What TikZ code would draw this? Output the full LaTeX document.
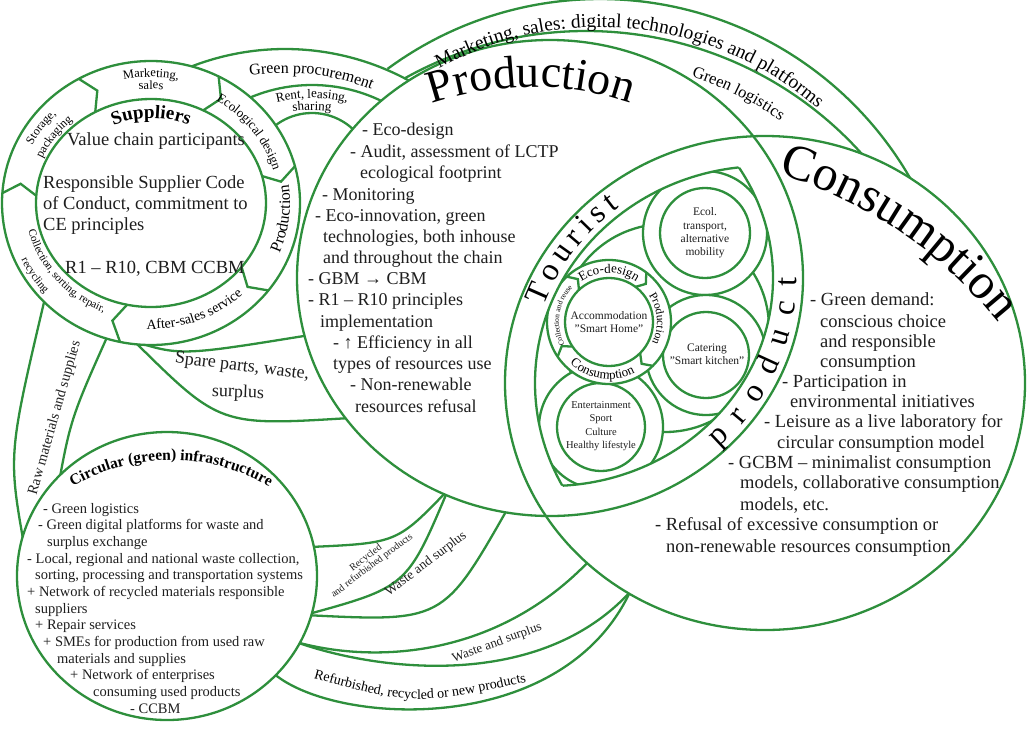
\documentclass[tikz,border=0pt]{standalone}
\usepackage{fontspec}
\setmainfont{Liberation Serif}
\usetikzlibrary{decorations.text}
\definecolor{LeafGreen}{HTML}{2E8F3C}
\definecolor{Ink}{HTML}{1E1E1E}

\begin{document}
\begin{tikzpicture}[x=1pt,y=-1pt,
    ring/.style={draw=LeafGreen,line width=2.3pt},
    curvetext/.style 2 args={decorate,decoration={text along path,text={|#1|#2},text align=center}},
    fittext/.style 2 args={decorate,decoration={text along path,text={|#1|#2},text align=fit to path}},
    listline/.style={inner sep=0pt,anchor=base west,text=Ink}]
  \useasboundingbox (0,0) rectangle (1032,729);
  \draw[ring] ([shift={(285,308)}]-112:259) arc[start angle=-112,end angle=-58,radius=259];
  \draw[ring] ([shift={(312,244)}]-116:159) arc[start angle=-116,end angle=-60,radius=159];
  \draw[ring] ([shift={(312,173)}]-132:60) arc[start angle=-132,end angle=-38,radius=60];
  \draw[ring] ([shift={(600,357)}]-126.4:358) arc[start angle=-126.4,end angle=-28,radius=358];
  \draw[ring] ([shift={(586,402)}]-119.3:371) arc[start angle=-119.3,end angle=-40,radius=371];
  \draw[ring] (130,340) .. controls (180,356) .. (310,335);
  \draw[ring] (135,342) .. controls (220,426) .. (350,418);
  \draw[ring] (45,298) .. controls (8,455) .. (25,550);
  \draw[ring] (108,335) .. controls (70,420) .. (55,505);
  \draw[ring] (310,547) .. controls (397,543) .. (448,490);
  \draw[ring] (305,615) .. controls (407,587) .. (448,490);
  \draw[ring] (305,615) .. controls (443,622) .. (508,508);
  \draw[ring] (296,642) .. controls (380,665) and (500,655) .. (590,560);
  \draw[ring] (296,642) .. controls (380,672) and (540,690) .. (630,592);
  \draw[ring] (272,672) .. controls (330,725) and (560,740) .. (630,592);
  \fill[white] (151,203) ellipse[x radius=149,y radius=142];
  \fill[white] (167,576) ellipse[x radius=150,y radius=144];
  \fill[white] (550,278) ellipse[x radius=253,y radius=238];
  \fill[white] (765,383) ellipse[x radius=260,y radius=247];
  \draw[ring] (151,203) ellipse[x radius=149,y radius=142];
  \draw[ring] (151,203) ellipse[x radius=115,y radius=104];
  \draw[ring] (167,576) ellipse[x radius=150,y radius=144];
  \draw[ring] (550,278) ellipse[x radius=253,y radius=238];
  \draw[ring] (765,383) ellipse[x radius=260,y radius=247];
  \begin{scope}[shift={(151,203)}]
    \foreach \a in {-119,-63,-15,38,102,184}
      \draw[ring] (\a:149 and 142) -- (\a+5:132 and 123) -- (\a:115 and 104);
  \end{scope}
  \begin{scope}
    \clip (550,278) ellipse[x radius=223,y radius=208];
    \clip (765,383) ellipse[x radius=230,y radius=217];
    \draw[ring] (665,328) circle[radius=104];
    \filldraw[ring,fill=white] (705,233) circle[radius=62];
    \draw[ring] (705,233) circle[radius=45];
    \filldraw[ring,fill=white] (706,355) circle[radius=60];
    \draw[ring] (706,355) circle[radius=43];
    \filldraw[ring,fill=white] (601,427) circle[radius=62];
    \draw[ring] (601,427) circle[radius=44];
    \filldraw[ring,fill=white] (609,322) circle[radius=62];
    \draw[ring] (609,322) circle[radius=44];
    \begin{scope}[shift={(609,322)}]
      \foreach \a in {-133,-53,45,146}
        \draw[ring] (\a:62) -- (\a+7:53) -- (\a:44);
    \end{scope}
  \end{scope}
  \begin{scope}
    \clip (550,278) ellipse[x radius=223,y radius=208];
    \draw[ring] (765,383) ellipse[x radius=230,y radius=217];
  \end{scope}
  \begin{scope}
    \clip (765,383) ellipse[x radius=230,y radius=217];
    \draw[ring] (550,278) ellipse[x radius=223,y radius=208];
  \end{scope}

  \path[curvetext={\fontsize{46}{46}\selectfont}{Production}] ([shift={(531,395)}]-118:308) arc[start angle=-118,end angle=-62,radius=308];
  \path[curvetext={\fontsize{50}{50}\selectfont}{Consumption}] ([shift={(650,600)}]-86:445) arc[start angle=-86,end angle=-25.8,radius=445];
  \path[fittext={\fontsize{32}{32}\selectfont}{Tourist}] ([shift={(765,383)}]-160:236 and 223) arc[start angle=-160,end angle=-128,x radius=236,y radius=223];
  \path[fittext={\fontsize{32}{32}\selectfont}{product}] ([shift={(550,278)}]47:247 and 232) arc[start angle=47,end angle=0,x radius=247,y radius=232];
  \path[curvetext={\fontsize{19}{19}\selectfont\bfseries}{Suppliers}] ([shift={(151,203)}]-125:93 and 85) arc[start angle=-125,end angle=-55,x radius=93,y radius=85];
  \path[curvetext={\fontsize{15.5}{15.5}\selectfont\bfseries}{Circular (green) infrastructure}] ([shift={(171,655)}]-128:195) arc[start angle=-128,end angle=-52,radius=195];
  \begin{scope}[shift={(151,203)}]
    \path[curvetext={\fontsize{12.5}{12.5}\selectfont}{Marketing,}] (-115:134 and 126) arc[start angle=-115,end angle=-65,x radius=134,y radius=126];
    \path[curvetext={\fontsize{12.5}{12.5}\selectfont}{sales}] (-105:122 and 114) arc[start angle=-105,end angle=-75,x radius=122,y radius=114];
    \path[curvetext={\fontsize{12}{12}\selectfont}{Storage,}] (-170:134 and 125) arc[start angle=-170,end angle=-118,x radius=134,y radius=125];
    \path[curvetext={\fontsize{12}{12}\selectfont}{packaging}] (-172:119 and 110) arc[start angle=-172,end angle=-116,x radius=119,y radius=110];
    \path[curvetext={\fontsize{13}{13}\selectfont}{Ecological design}] (-75:127 and 119) arc[start angle=-75,end angle=1,x radius=127,y radius=119];
    \path[curvetext={\fontsize{16}{16}\selectfont}{Production}] (50:139 and 131) arc[start angle=50,end angle=-36,x radius=139,y radius=131];
    \path[curvetext={\fontsize{14}{14}\selectfont}{After-sales service}] (110:134 and 126) arc[start angle=110,end angle=28,x radius=134,y radius=126];
    \path[curvetext={\fontsize{11}{11}\selectfont}{Collection, sorting, repair,}] (190:126 and 118) arc[start angle=190,end angle=90,x radius=126,y radius=118];
    \path[curvetext={\fontsize{11}{11}\selectfont}{recycling}] (168:143 and 135) arc[start angle=168,end angle=125.4,x radius=143,y radius=135];
  \end{scope}
  \begin{scope}[shift={(609,322)}]
    \path[curvetext={\fontsize{13}{13}\selectfont}{Eco-design}] (-140:49) arc[start angle=-140,end angle=-40,radius=49];
    \path[curvetext={\fontsize{11.5}{11.5}\selectfont}{Production}] (-50:48) arc[start angle=-50,end angle=42,radius=48];
    \path[curvetext={\fontsize{13}{13}\selectfont}{Consumption}] (155:57) arc[start angle=155,end angle=41,radius=57];
    \path[curvetext={\fontsize{7.5}{7.5}\selectfont}{Collection and reuse}] (140:50) arc[start angle=140,end angle=236,radius=50];
  \end{scope}
  \path[curvetext={\fontsize{16}{16}\selectfont}{Green procurement}] ([shift={(285,308)}]-105:235) arc[start angle=-105,end angle=-62,radius=235];
  \path[curvetext={\fontsize{13}{13}\selectfont}{Rent, leasing,}] ([shift={(312,244)}]-115:146) arc[start angle=-115,end angle=-65,radius=146];
  \path[curvetext={\fontsize{13}{13}\selectfont}{sharing}] ([shift={(312,244)}]-105:134) arc[start angle=-105,end angle=-75,radius=134];
  \path[curvetext={\fontsize{19.5}{19.5}\selectfont}{Marketing, sales: digital technologies and platforms}] ([shift={(600,357)}]-126:330) arc[start angle=-126,end angle=-42,radius=330];
  \path[curvetext={\fontsize{16.5}{16.5}\selectfont}{Green logistics}] ([shift={(586,402)}]-81:342) arc[start angle=-81,end angle=-46.4,radius=342];
  \path[curvetext={\fontsize{14}{14}\selectfont}{Refurbished, recycled or new products}] (305,676) .. controls (415,706) .. (535,680);

  \node[rotate=74,text=Ink,font=\fontsize{14.5}{14.5}\selectfont] (raw) at (55,418) {Raw materials and supplies};
  \node[rotate=-7,text=Ink,font=\fontsize{18}{18}\selectfont] (spare) at (242,367) {Spare parts, waste,};
  \node[rotate=-2,text=Ink,font=\fontsize{18}{18}\selectfont] (surplus) at (238,393) {surplus};
  \node[rotate=37,align=center,text=Ink,font=\fontsize{10}{10}\selectfont] (recycled) at (369,562) {Recycled\\and refurbished products};
  \node[rotate=37,text=Ink,font=\fontsize{13.5}{13.5}\selectfont] (wasteA) at (426,564) {Waste and surplus};
  \node[rotate=20,text=Ink,font=\fontsize{13}{13}\selectfont] (wasteB) at (497,643) {Waste and surplus};

  \node[align=center,text=Ink,font=\fontsize{11.5}{13.3}\selectfont] (ecol) at (705,233) {Ecol.\\transport,\\alternative\\mobility};
  \node[align=center,text=Ink,font=\fontsize{11.5}{13.3}\selectfont] (home) at (609,322) {Accommodation\\"Smart Home"};
  \node[align=center,text=Ink,font=\fontsize{11.5}{13.3}\selectfont] (kitchen) at (707,354) {Catering\\"Smart kitchen"};
  \node[align=center,text=Ink,font=\fontsize{10.5}{13.3}\selectfont] (leisure) at (601,426) {Entertainment\\Sport\\Culture\\Healthy lifestyle};

  \node[anchor=base,text=Ink,font=\fontsize{18.5}{18.5}\selectfont] (valuechain) at (156,145) {Value chain participants};
  \foreach \x/\y/\t [count=\i] in {43/188/{Responsible Supplier Code},43/209/{of Conduct, commitment to},
      43/230/{CE principles},65/273/{R1 – R10, CBM CCBM}}
    \node[listline,font=\fontsize{18.5}{18.5}\selectfont] (supp\i) at (\x,\y) {\t};
  \foreach \x/\y/\t [count=\i] in {362/135/{- Eco-design},350/157/{- Audit, assessment of LCTP},
      360/178/{ecological footprint},322/200/{- Monitoring},315/221/{- Eco-innovation, green},
      323/242/{technologies, both inhouse},323/263/{and throughout the chain},308/284/{- GBM → CBM},
      308/305/{- R1 – R10 principles},320/327/{implementation},333/348/{- ↑ Efficiency in all},
      333/369/{types of resources use},350/390/{- Non-renewable},355/412/{resources refusal}}
    \node[listline,font=\fontsize{18}{18}\selectfont] (prod\i) at (\x,\y) {\t};
  \foreach \x/\y/\t [count=\i] in {810/305/{- Green demand:},820/327/{conscious choice},
      820/347/{and responsible},820/367/{consumption},782/387/{- Participation in},
      790/407/{environmental initiatives},764/427/{- Leisure as a live laboratory for},
      777/448/{circular consumption model},728/468/{- GCBM – minimalist consumption},
      740/488/{models, collaborative consumption},740/510/{models, etc.},
      655/530/{- Refusal of excessive consumption or},666/552/{non-renewable resources consumption}}
    \node[listline,font=\fontsize{18.5}{18.5}\selectfont] (cons\i) at (\x,\y) {\t};
  \foreach \x/\y/\t [count=\i] in {43/513/{- Green logistics},38/529/{- Green digital platforms for waste and},
      47/546/{surplus exchange},27/563/{- Local, regional and national waste collection,},
      35/579/{sorting, processing and transportation systems},27/596/{+ Network of recycled materials responsible},
      35/613/{suppliers},35/629/{+ Repair services},43/646/{+ SMEs for production from used raw},
      57/663/{materials and supplies},70/679/{+ Network of enterprises},93/696/{consuming used products},
      130/713/{- CCBM}}
    \node[listline,font=\fontsize{14.5}{14.5}\selectfont] (infra\i) at (\x,\y) {\t};
\end{tikzpicture}
\end{document}
